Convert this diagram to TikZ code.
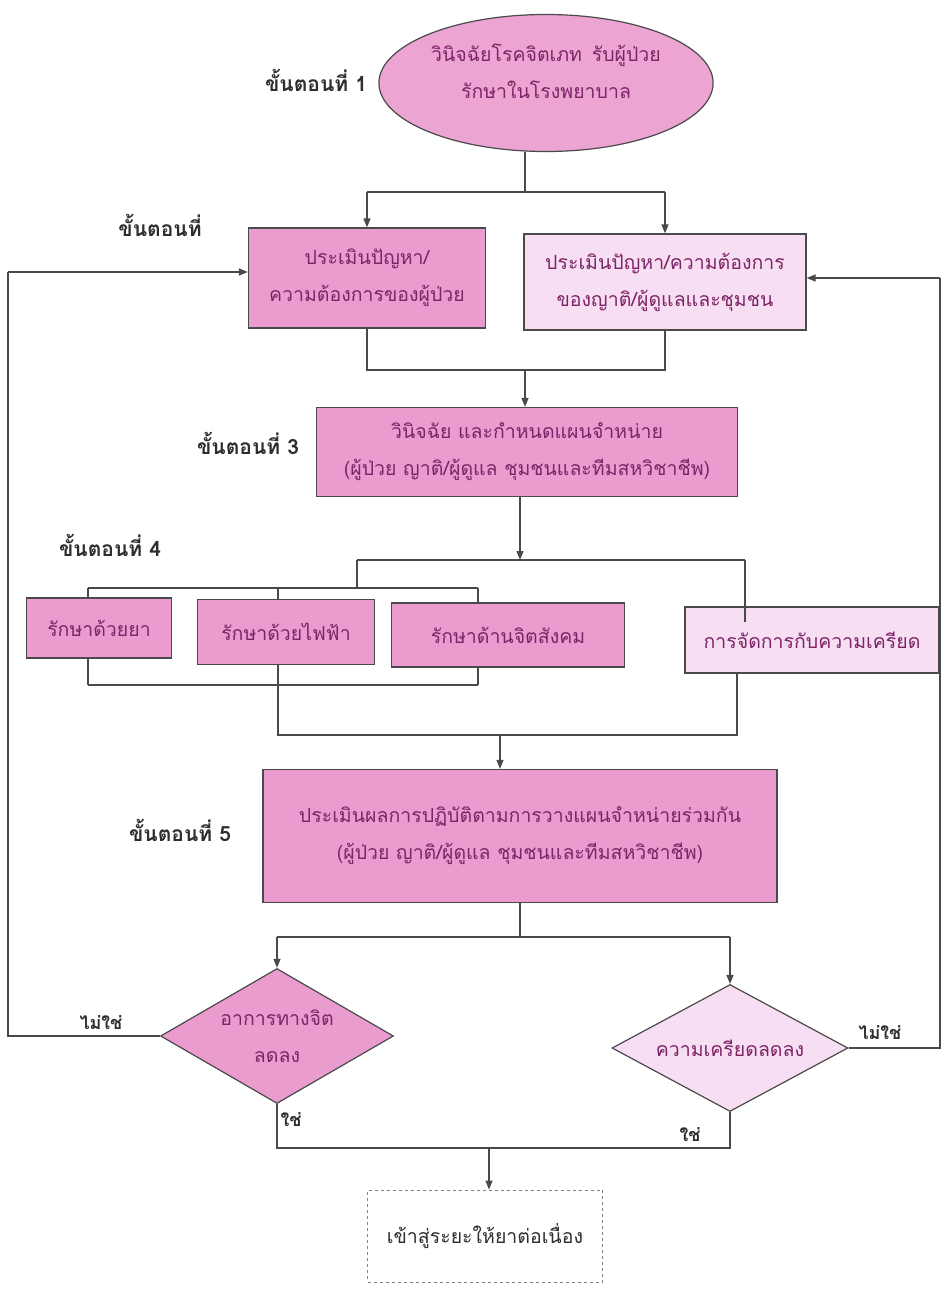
\documentclass[tikz,border=0pt]{standalone}
\usepackage{fontspec}
\newfontfamily\thaifont[Script=Thai]{Loma}
\usepackage{tikz}
\usetikzlibrary{positioning, arrows.meta, shapes.geometric, calc}
\definecolor{flowPink}{HTML}{EA9CCF}
\definecolor{flowLight}{HTML}{F7DEF2}
\definecolor{flowText}{HTML}{7E2468}
\definecolor{flowLine}{HTML}{4A4A4A}
\definecolor{flowLabel}{HTML}{2E2E2E}

\begin{document}
\begin{tikzpicture}[
  x=1pt, y=-1pt,
  every node/.style={font=\thaifont\fontsize{19.5}{37}\selectfont},
  flowbox/.style={
    rectangle, draw=flowLine, line width=1.2pt,
    fill=#1, text=flowText, align=center, inner sep=2pt
  },
  decision/.style={
    diamond, aspect=1.8, draw=flowLine, line width=1.2pt,
    fill=#1, text=flowText, align=center, inner sep=0pt
  },
  steplabel/.style={font=\thaifont\bfseries\fontsize{21}{24}\selectfont, text=flowLabel},
  answer/.style={font=\thaifont\bfseries\fontsize{18}{20}\selectfont, text=flowLabel},
  conn/.style={flowLine, line width=1.3pt},
  arr/.style={conn, -{Triangle[length=9pt, width=7pt]}},
]
\useasboundingbox (0,0) rectangle (947,1289);

% === STEP 1 ===
\node[ellipse, draw=flowLine, line width=1.2pt, fill=flowPink!92, text=flowText,
  align=center, minimum width=332pt, minimum height=137pt] (admit) at (546,83)
  {วินิจฉัยโรคจิตเภท\enspace รับผู้ป่วย\\รักษาในโรงพยาบาล\\[-14pt]};
\node[steplabel] (st1) at (316,80) {ขั้นตอนที่ 1};

% === STEP 2 ===
\node[flowbox=flowPink, minimum width=237pt, minimum height=100pt] (patient) at (367,278)
  {ประเมินปัญหา/\\ความต้องการของผู้ป่วย};
\node[flowbox=flowLight, minimum width=282pt, minimum height=96pt] (family) at (665,282)
  {ประเมินปัญหา/ความต้องการ\\ของญาติ/ผู้ดูแลและชุมชน};
\node[steplabel] (st2) at (160,225) {ขั้นตอนที่};

\coordinate (split1) at (525,192);
\draw[conn] (split1 |- admit.south) -- (split1);
\draw[conn] (patient.north |- split1) -- (family.north |- split1);
\draw[arr] (patient.north |- split1) -- (patient.north);
\draw[arr] (family.north |- split1) -- (family.north);

% === STEP 3 ===
\node[flowbox=flowPink, minimum width=421pt, minimum height=89pt] (plan) at (527,452)
  {วินิจฉัย และกำหนดแผนจำหน่าย\\(ผู้ป่วย ญาติ/ผู้ดูแล ชุมชนและทีมสหวิชาชีพ)};
\node[steplabel] (st3) at (248,443) {ขั้นตอนที่ 3};

\coordinate (merge2) at (525,370);
\draw[conn] (patient.south) |- (merge2);
\draw[conn] (family.south) |- (merge2);
\draw[arr] (merge2) -- (merge2 |- plan.north);

% === STEP 4 ===
\node[flowbox=flowPink, minimum width=145pt, minimum height=60pt] (drug) at (99,628) {รักษาด้วยยา};
\node[flowbox=flowPink, minimum width=177pt, minimum height=65pt] (ect) at (286,632) {รักษาด้วยไฟฟ้า};
\node[flowbox=flowPink, minimum width=233pt, minimum height=64pt] (psycho) at (508,635) {รักษาด้านจิตสังคม};
\node[flowbox=flowLight, minimum width=254pt, minimum height=66pt] (stress) at (812,640) {การจัดการกับความเครียด};
\node[steplabel] (st4) at (110,545) {ขั้นตอนที่ 4};

\coordinate (split4) at (520,560);
\coordinate (treatL) at (357,560);
\coordinate (treatR) at (745,560);
\coordinate (bracketT) at (357,588);
\draw[arr] (split4 |- plan.south) -- (split4);
\draw[conn] (treatL) -- (treatR);
\draw[conn] (treatL) -- (bracketT);
\draw[conn] (treatR) -- ($(treatR |- stress.north)+(0,16)$);
\draw[conn] (88,588) coordinate (bt1) -- (478,588) coordinate (bt3);
\draw[conn] (bt1) -- (bt1 |- drug.north);
\draw[conn] (278,588) coordinate (bt2) -- (bt2 |- ect.north);
\draw[conn] (bt3) -- (bt3 |- psycho.north);

\draw[conn] (88,685) coordinate (bb1) -- (478,685) coordinate (bb3);
\draw[conn] (bb1 |- drug.south) -- (bb1);
\draw[conn] (bb3 |- psycho.south) -- (bb3);

% === STEP 5 ===
\node[flowbox=flowPink, minimum width=514pt, minimum height=133pt] (evaluate) at (520,836)
  {ประเมินผลการปฏิบัติตามการวางแผนจำหน่ายร่วมกัน\\(ผู้ป่วย ญาติ/ผู้ดูแล ชุมชนและทีมสหวิชาชีพ)};
\node[steplabel] (st5) at (180,830) {ขั้นตอนที่ 5};

\coordinate (merge4) at (500,735);
\draw[conn] (ect.south -| 278,0) |- (merge4);
\draw[conn] (stress.south -| 737,0) |- (merge4);
\draw[arr] (merge4) -- (merge4 |- evaluate.north);

% === DECISIONS ===
\node[decision=flowPink, minimum width=233pt, minimum height=135pt] (symptom) at (277,1036)
  {อาการทางจิต\\ลดลง};
\node[decision=flowLight, minimum width=236pt, minimum height=127pt] (relief) at (730,1048)
  {ความเครียดลดลง};

\coordinate (split5) at (520,937);
\draw[conn] (split5 |- evaluate.south) -- (split5);
\draw[conn] (symptom.north |- split5) -- (relief.north |- split5);
\draw[arr] (symptom.north |- split5) -- (symptom.north);
\draw[arr] (relief.north |- split5) -- (relief.north);

% feedback loops (no)
\coordinate (backL) at (8,272);
\coordinate (backR) at (940,278);
\draw[conn] (symptom.west) -| (backL);
\draw[arr] (backL) -- (backL -| patient.west);
\draw[conn] (relief.east) -| (backR);
\draw[arr] (backR) -- (backR -| family.east);
\node[answer] (noL) at (101,1023) {ไม่ใช่};
\node[answer] (noR) at (880,1033) {ไม่ใช่};

% === CONTINUE (yes) ===
\node[rectangle, draw=flowLine!70, dashed, line width=0.8pt, fill=white,
  minimum width=235pt, minimum height=92pt, text=flowLabel] (cont) at (485,1236)
  {เข้าสู่ระยะให้ยาต่อเนื่อง};

\coordinate (merge6) at (489,1148);
\draw[conn] (symptom.south) |- (merge6);
\draw[conn] (relief.south) |- (merge6);
\draw[arr] (merge6) -- (merge6 |- cont.north);
\node[answer] (yesL) at (291,1120) {ใช่};
\node[answer] (yesR) at (690,1135) {ใช่};

\end{tikzpicture}
\end{document}
